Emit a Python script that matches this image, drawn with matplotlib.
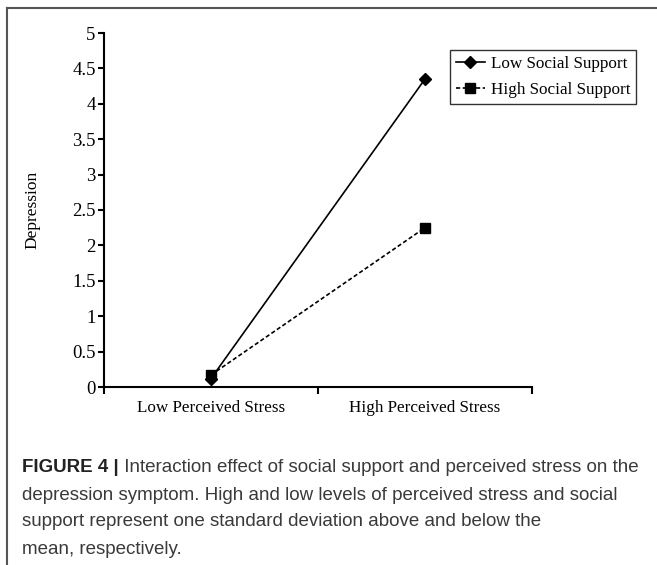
import matplotlib
matplotlib.use('Agg')
import matplotlib.pyplot as plt
from matplotlib.lines import Line2D

# Datos
categories = ['Low Perceived Stress', 'High Perceived Stress']
low_support = [0.12, 4.35]
high_support = [0.17, 2.25]
series_labels = ['Low Social Support', 'High Social Support']
y_ticks = [0, 0.5, 1, 1.5, 2, 2.5, 3, 3.5, 4, 4.5, 5]
caption_bold = 'FIGURE 4 |'
caption_lines = [
    ' Interaction effect of social support and perceived stress on the',
    'depression symptom. High and low levels of perceived stress and social',
    'support represent one standard deviation above and below the',
    'mean, respectively.',
]

W, H = 657, 565
fig = plt.figure(figsize=(W / 100, H / 100), dpi=100)
serif = ['Liberation Serif', 'DejaVu Serif']

ax = fig.add_axes([104 / W, 1 - 387 / H, (532 - 104) / W, (387 - 33) / H])
x = list(range(len(categories)))
ax.plot(x, low_support, color='black', lw=1.2, marker='D', markersize=6,
        label=series_labels[0], clip_on=False, zorder=3)
ax.plot(x, high_support, color='black', lw=1.2, ls=(0, (2.5, 1.5)), marker='s',
        markersize=6.5, label=series_labels[1], clip_on=False, zorder=3)

ax.set_xlim(-0.5, len(categories) - 0.5)
ax.set_ylim(0, 5)
ax.set_yticks(y_ticks)
ax.set_yticklabels([f'{v:g}' for v in y_ticks], fontfamily=serif, fontsize=13.5)
ax.set_xticks([i - 0.5 for i in range(len(categories) + 1)])
ax.set_xticklabels([])
ax.set_xticks(x, minor=True)
ax.set_xticklabels(categories, minor=True, fontfamily=serif, fontsize=12.3)
ax.tick_params(axis='x', which='minor', length=0, pad=9)
ax.tick_params(axis='x', which='major', length=5, width=1.5, direction='out')
ax.tick_params(axis='y', length=4, width=1.5, pad=2, direction='out')

for side in ['top', 'right']:
    ax.spines[side].set_visible(False)
for side in ['left', 'bottom']:
    ax.spines[side].set_linewidth(1.5)

ax.set_ylabel('Depression', fontfamily=serif, fontsize=12.5)
ax.yaxis.set_label_coords((40 - 104) / (532 - 104), 0.5)

leg = ax.legend(loc='upper right', bbox_to_anchor=(636 / W, 1 - 50 / H),
                bbox_transform=fig.transFigure, borderaxespad=0,
                prop={'family': serif, 'size': 12.3}, frameon=True, fancybox=False,
                edgecolor='black', handlelength=1.7, handletextpad=0.35,
                borderpad=0.35, labelspacing=0.6)
leg.get_frame().set_linewidth(1.0)

# Marco de la figura (solo arriba e izquierda)
fig.add_artist(Line2D([7 / W, 1], [1 - 8 / H, 1 - 8 / H], transform=fig.transFigure,
                      color='#555555', lw=1.5))
fig.add_artist(Line2D([7 / W, 7 / W], [0, 1 - 8 / H], transform=fig.transFigure,
                      color='#555555', lw=1.5))

# Pie de figura
sans = ['Liberation Sans', 'DejaVu Sans']
line_y = [468, 495, 522, 549]
x0 = 22 / W
tb = fig.text(x0, 1 - line_y[0] / H, caption_bold, fontfamily=sans, fontsize=13.5,
              fontweight='bold', color='#222222', va='center')
fig.canvas.draw()
bb = tb.get_window_extent()
fig.text(bb.x1 / W, 1 - line_y[0] / H, caption_lines[0], fontfamily=sans,
         fontsize=13.5, color='#3a3a3a', va='center')
for txt, yy in zip(caption_lines[1:], line_y[1:]):
    fig.text(x0, 1 - yy / H, txt, fontfamily=sans, fontsize=13.5,
             color='#3a3a3a', va='center')

fig.savefig('out.png', dpi=100)
plt.close(fig)
